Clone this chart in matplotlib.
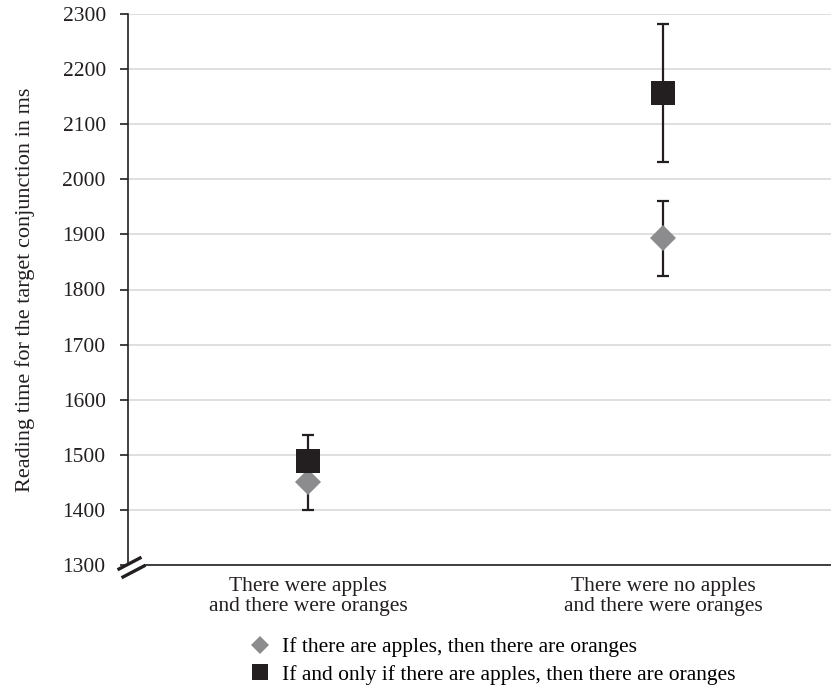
import matplotlib
matplotlib.use('Agg')
import matplotlib.pyplot as plt
from matplotlib.lines import Line2D

# Reading times (ms) per condition
categories = ['There were apples\nand there were oranges',
              'There were no apples\nand there were oranges']
series_names = ['If there are apples, then there are oranges',
                'If and only if there are apples, then there are oranges']
cond_means = [1450, 1893]
cond_err = [50, 68]
bicond_means = [1489, 2157]
bicond_err = [47, 125]

plt.rcParams['font.family'] = ['Liberation Serif', 'DejaVu Serif']
dark = '#231f20'
grey = '#8c8c8e'

W, H = 831, 689
fig = plt.figure(figsize=(W / 100, H / 100), dpi=100)
ax = fig.add_axes([128 / W, 1 - 565 / H, 703 / W, (565 - 14) / H])

x = list(range(len(categories)))

# error bars first, then markers on top
ax.errorbar(x, cond_means, yerr=cond_err, fmt='none', ecolor=dark,
            elinewidth=1.6, capsize=4.5, capthick=1.6, zorder=3)
ax.errorbar(x, bicond_means, yerr=bicond_err, fmt='none', ecolor=dark,
            elinewidth=1.6, capsize=4.5, capthick=1.6, zorder=3)
ax.plot(x, cond_means, linestyle='none', marker='D', markersize=13,
        color=grey, markeredgewidth=0, zorder=4)
ax.plot(x, bicond_means, linestyle='none', marker='s', markersize=17,
        color=dark, markeredgewidth=0, zorder=5)

ax.set_ylim(1300, 2300)
ax.set_yticks(range(1300, 2301, 100))
ax.set_xlim(-0.507, 1.473)
ax.set_xticks(x)
ax.set_xticklabels(categories, fontsize=15.5, color=dark, linespacing=1.0)
ax.tick_params(axis='x', length=0, pad=9)
ax.tick_params(axis='y', length=6, width=1.2, color=dark, labelsize=15.5,
               labelcolor=dark, pad=10)

ax.grid(axis='y', color='#d9d9d9', linewidth=1.2, zorder=0)
ax.set_axisbelow(True)
for s in ['top', 'right']:
    ax.spines[s].set_visible(False)
ax.spines['left'].set_color(dark)
ax.spines['left'].set_linewidth(1.2)
ax.spines['bottom'].set_color(dark)
ax.spines['bottom'].set_linewidth(1.2)

ax.set_ylabel('Reading time for the target conjunction in ms', fontsize=16,
              color=dark, labelpad=20)

# axis break mark at the origin
def px(xp, yp):
    return xp / W, 1 - yp / H

gap = plt.Polygon([px(118, 569), px(140, 557), px(145, 566), px(123, 578)],
                  closed=True, facecolor='white', edgecolor='none',
                  transform=fig.transFigure, zorder=10)
fig.patches.append(gap)
for (xa, ya, xb, yb) in [(119, 569, 140, 558), (123, 577, 144, 566)]:
    (x0, y0), (x1, y1) = px(xa, ya), px(xb, yb)
    fig.add_artist(Line2D([x0, x1], [y0, y1], color=dark, linewidth=2.4,
                          transform=fig.transFigure, zorder=11))

handles = [Line2D([], [], linestyle='none', marker='D', markersize=8.7,
                  color=grey, markeredgewidth=0),
           Line2D([], [], linestyle='none', marker='s', markersize=11.5,
                  color=dark, markeredgewidth=0)]
fig.legend(handles, series_names, loc='upper left',
           bbox_to_anchor=px(249, 637), frameon=False, fontsize=15.5,
           handlelength=1.0, handletextpad=0.53, labelspacing=0.35,
           borderaxespad=0, borderpad=0)

fig.savefig('out.png', dpi=100)
